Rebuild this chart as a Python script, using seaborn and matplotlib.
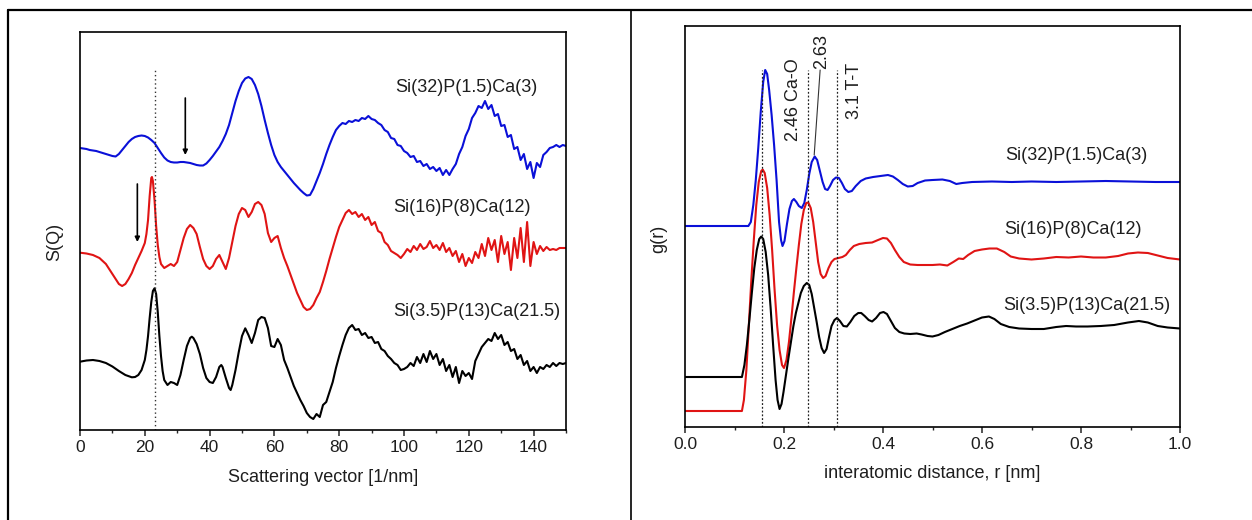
import matplotlib
matplotlib.use("Agg")
import matplotlib.pyplot as plt
from matplotlib.lines import Line2D
from matplotlib.ticker import MultipleLocator, FormatStrFormatter
import numpy as np
import pandas as pd
import seaborn as sns

# ---------------------------------------------------------------- S(Q) data
# scattering vector Q [1/nm] and structure factor S(Q) (arbitrary units)
q_blue = list(range(0, 151))
s_blue = [0.98, 0.975, 0.97, 0.96, 0.955, 0.95, 0.94, 0.93, 0.92, 0.91,
          0.90, 0.895, 0.92, 0.96, 1.00, 1.04, 1.07, 1.09, 1.10, 1.105,
          1.10, 1.085, 1.06, 1.03, 0.98, 0.93, 0.885, 0.855, 0.84, 0.835,
          0.835, 0.84, 0.84, 0.835, 0.83, 0.82, 0.81, 0.805, 0.805, 0.825,
          0.86, 0.90, 0.945, 0.99, 1.05, 1.12, 1.21, 1.33, 1.45, 1.55,
          1.63, 1.675, 1.69, 1.67, 1.61, 1.52, 1.40, 1.26, 1.13, 1.01,
          0.91, 0.84, 0.79, 0.75, 0.71, 0.67, 0.63, 0.595, 0.56, 0.53,
          0.505, 0.51, 0.57, 0.65, 0.73, 0.82, 0.92, 1.01, 1.09, 1.16,
          1.20, 1.23, 1.22, 1.25, 1.24, 1.26, 1.25, 1.28, 1.27, 1.30,
          1.27, 1.26, 1.23, 1.21, 1.16, 1.14, 1.08, 1.07, 1.01, 1.00,
          0.95, 0.93, 0.89, 0.90, 0.84, 0.85, 0.80, 0.82, 0.77, 0.79,
          0.75, 0.78, 0.71, 0.76, 0.71, 0.77, 0.82, 0.92, 0.99, 1.10,
          1.17, 1.28, 1.33, 1.40, 1.38, 1.45, 1.37, 1.41, 1.30, 1.32,
          1.20, 1.21, 1.09, 1.11, 0.97, 0.99, 0.86, 0.92, 0.77, 0.84,
          0.68, 0.83, 0.79, 0.91, 0.94, 0.98, 0.99, 1.01, 0.99, 1.01,
          1.00]

q_red = ([0, 2, 4, 6, 8, 10, 11, 12, 13, 14, 15, 16, 17, 18, 19, 20,
          20.5, 21, 21.5, 22, 22.2, 22.5, 23, 23.5, 24, 24.5]
         + list(range(25, 151)))
s_red = [0.953, 0.945, 0.93, 0.90, 0.84, 0.74, 0.69, 0.64, 0.62, 0.64,
         0.69, 0.75, 0.83, 0.90, 0.97, 1.05, 1.14, 1.28, 1.52, 1.70,
         1.71, 1.67, 1.48, 1.22, 1.03, 0.91,
         0.84, 0.80, 0.82, 0.84, 0.82, 0.86, 0.98, 1.10, 1.19, 1.23,
         1.20, 1.14, 1.01, 0.89, 0.82, 0.79, 0.82, 0.89, 0.93, 0.86,
         0.79, 0.90, 1.06, 1.22, 1.34, 1.40, 1.38, 1.31, 1.36, 1.44,
         1.46, 1.43, 1.34, 1.15, 1.06, 1.10, 1.12, 1.00, 0.90, 0.82,
         0.73, 0.64, 0.55, 0.48, 0.41, 0.38, 0.39, 0.43, 0.50, 0.56,
         0.66, 0.77, 0.89, 1.00, 1.11, 1.21, 1.28, 1.35, 1.38, 1.34,
         1.36, 1.31, 1.34, 1.28, 1.31, 1.23, 1.26, 1.17, 1.15, 1.06,
         1.03, 0.97, 0.95, 0.93, 0.90, 0.94, 0.99, 0.96, 1.02, 0.98,
         1.04, 0.99, 1.01, 1.07, 1.00, 1.03, 0.98, 1.05, 0.96, 1.00,
         0.92, 0.97, 0.86, 0.94, 0.82, 0.90, 0.85, 0.96, 0.90, 1.04,
         0.92, 1.10, 0.98, 1.08, 0.86, 1.12, 0.94, 1.06, 0.78, 1.10,
         0.90, 1.20, 0.86, 1.26, 0.82, 1.06, 0.94, 1.02, 0.97, 1.01,
         0.98, 0.99, 0.98, 1.00, 1.00, 1.00]

q_black = [0, 2, 4, 6, 8, 10, 12, 14, 16, 17, 18, 19, 20, 20.5, 21, 21.5,
           22, 22.5, 23, 23.5, 24, 24.5, 25, 25.5, 26, 27, 28, 29, 30, 31,
           32, 33, 34, 34.5, 35, 36, 37, 38, 39, 40, 41, 42, 43, 43.6, 44,
           45, 46, 46.5, 47] + list(range(48, 151))
s_black = [1.013, 1.025, 1.03, 1.02, 1.00, 0.965, 0.92, 0.88, 0.857, 0.86,
           0.88, 0.93, 1.03, 1.13, 1.27, 1.45, 1.61, 1.72, 1.747, 1.69,
           1.51, 1.27, 1.07, 0.92, 0.83, 0.78, 0.81, 0.80, 0.78, 0.88,
           1.03, 1.17, 1.25, 1.263, 1.25, 1.19, 1.09, 0.95, 0.85, 0.81,
           0.80, 0.86, 0.96, 0.98, 0.96, 0.85, 0.75, 0.73, 0.78,
           0.93, 1.11, 1.27, 1.347, 1.28, 1.20, 1.30, 1.43, 1.46, 1.45,
           1.35, 1.17, 1.16, 1.24, 1.18, 1.03, 0.95, 0.86, 0.77, 0.70,
           0.63, 0.57, 0.50, 0.46, 0.44, 0.49, 0.46, 0.58, 0.61, 0.71,
           0.81, 0.95, 1.07, 1.18, 1.28, 1.35, 1.38, 1.33, 1.34, 1.28,
           1.30, 1.25, 1.26, 1.20, 1.21, 1.14, 1.12, 1.07, 1.04, 1.00,
           0.98, 0.93, 0.94, 0.96, 1.00, 0.97, 1.06, 1.00, 1.09, 1.01,
           1.12, 1.04, 1.09, 0.98, 1.04, 0.92, 0.98, 0.86, 0.96, 0.80,
           0.92, 0.87, 0.90, 0.84, 1.02, 1.09, 1.16, 1.20, 1.24, 1.22,
           1.30, 1.24, 1.28, 1.18, 1.21, 1.12, 1.14, 1.04, 1.08, 0.98,
           1.02, 0.92, 0.96, 0.90, 0.96, 0.94, 0.98, 0.96, 1.00, 0.97,
           1.00, 0.99, 1.00]

# ---------------------------------------------------------------- g(r) data
r_blue = [0.00, 0.12, 0.128, 0.133, 0.138, 0.143, 0.148, 0.153, 0.158, 0.162,
          0.166, 0.170, 0.175, 0.180, 0.185, 0.190, 0.194, 0.197, 0.201, 0.206,
          0.211, 0.216, 0.220, 0.225, 0.230, 0.236, 0.241, 0.246, 0.251, 0.256,
          0.262, 0.267, 0.272, 0.278, 0.283, 0.288, 0.293, 0.299, 0.305, 0.311,
          0.317, 0.323, 0.330, 0.337, 0.345, 0.355, 0.365, 0.380, 0.395, 0.410,
          0.420, 0.430, 0.440, 0.450, 0.460, 0.470, 0.485, 0.50, 0.52, 0.535,
          0.548, 0.56, 0.58, 0.62, 0.66, 0.70, 0.75, 0.80, 0.85, 0.90,
          0.95, 1.00]
g_blue = [0.0, 0.0, 0.0, 0.04, 0.21, 0.46, 0.78, 1.14, 1.44, 1.56,
          1.52, 1.36, 1.11, 0.81, 0.46, 0.04, -0.14, -0.20, -0.15, 0.02,
          0.17, 0.25, 0.27, 0.24, 0.20, 0.18, 0.23, 0.36, 0.52, 0.64,
          0.695, 0.66, 0.56, 0.44, 0.37, 0.36, 0.40, 0.46, 0.485, 0.48,
          0.43, 0.37, 0.34, 0.35, 0.40, 0.45, 0.475, 0.49, 0.50, 0.51,
          0.495, 0.46, 0.42, 0.395, 0.40, 0.43, 0.455, 0.46, 0.465, 0.45,
          0.42, 0.43, 0.44, 0.445, 0.44, 0.445, 0.44, 0.445, 0.45, 0.445,
          0.44, 0.44]

r_red = [0.0, 0.115, 0.119, 0.124, 0.129, 0.134, 0.139, 0.144, 0.149, 0.154,
         0.157, 0.161, 0.166, 0.171, 0.176, 0.181, 0.186, 0.191, 0.196, 0.200,
         0.205, 0.210, 0.215, 0.220, 0.225, 0.230, 0.235, 0.240, 0.245, 0.249,
         0.254, 0.259, 0.264, 0.269, 0.274, 0.279, 0.284, 0.290, 0.296, 0.302,
         0.310, 0.318, 0.325, 0.333, 0.341, 0.352, 0.365, 0.378, 0.390, 0.400,
         0.408, 0.416, 0.424, 0.433, 0.442, 0.455, 0.47, 0.485, 0.50, 0.515,
         0.530, 0.542, 0.553, 0.562, 0.572, 0.585, 0.600, 0.615, 0.630, 0.645,
         0.658, 0.675, 0.700, 0.725, 0.750, 0.775, 0.800, 0.825, 0.850, 0.875,
         0.895, 0.915, 0.935, 0.955, 0.975, 1.000]
g_red = [0.0, 0.0, 0.11, 0.41, 0.86, 1.31, 1.71, 2.06, 2.29, 2.40,
         2.415, 2.38, 2.23, 1.96, 1.61, 1.21, 0.86, 0.61, 0.46, 0.43,
         0.51, 0.69, 0.93, 1.19, 1.43, 1.66, 1.87, 2.01, 2.08, 2.085,
         2.03, 1.89, 1.69, 1.49, 1.37, 1.33, 1.35, 1.43, 1.49, 1.52,
         1.53, 1.54, 1.56, 1.61, 1.65, 1.67, 1.68, 1.685, 1.71, 1.73,
         1.725, 1.68, 1.61, 1.54, 1.49, 1.465, 1.46, 1.46, 1.46, 1.465,
         1.455, 1.49, 1.525, 1.52, 1.56, 1.60, 1.615, 1.625, 1.625, 1.59,
         1.545, 1.525, 1.515, 1.525, 1.54, 1.535, 1.545, 1.535, 1.535, 1.55,
         1.575, 1.585, 1.58, 1.555, 1.53, 1.515]

r_black = [0.0, 0.115, 0.120, 0.125, 0.130, 0.135, 0.140, 0.145, 0.150, 0.154,
           0.158, 0.163, 0.168, 0.173, 0.178, 0.183, 0.187, 0.191, 0.195, 0.199,
           0.204, 0.209, 0.214, 0.219, 0.224, 0.229, 0.234, 0.240, 0.246, 0.251,
           0.256, 0.261, 0.266, 0.271, 0.276, 0.281, 0.286, 0.291, 0.296, 0.302,
           0.307, 0.313, 0.320, 0.327, 0.334, 0.342, 0.350, 0.356, 0.363, 0.371,
           0.378, 0.386, 0.394, 0.401, 0.408, 0.416, 0.424, 0.433, 0.443, 0.455,
           0.468, 0.478, 0.490, 0.500, 0.512, 0.525, 0.540, 0.555, 0.570, 0.585,
           0.600, 0.614, 0.625, 0.638, 0.655, 0.675, 0.700, 0.725, 0.750, 0.770,
           0.790, 0.813, 0.840, 0.867, 0.895, 0.917, 0.935, 0.955, 0.975, 1.000]
g_black = [0.0, 0.0, 0.12, 0.32, 0.57, 0.84, 1.09, 1.27, 1.38, 1.405,
           1.38, 1.25, 1.02, 0.69, 0.32, -0.03, -0.23, -0.32, -0.27, -0.15,
           0.02, 0.19, 0.35, 0.51, 0.64, 0.74, 0.84, 0.91, 0.94, 0.92,
           0.83, 0.69, 0.55, 0.40, 0.29, 0.24, 0.28, 0.40, 0.51, 0.57,
           0.59, 0.56, 0.51, 0.505, 0.55, 0.61, 0.64, 0.64, 0.61, 0.57,
           0.555, 0.59, 0.64, 0.65, 0.63, 0.56, 0.49, 0.45, 0.435, 0.43,
           0.435, 0.425, 0.41, 0.405, 0.42, 0.45, 0.48, 0.51, 0.535, 0.565,
           0.595, 0.605, 0.58, 0.53, 0.50, 0.485, 0.48, 0.48, 0.50, 0.51,
           0.505, 0.505, 0.51, 0.52, 0.545, 0.56, 0.545, 0.51, 0.495, 0.485]

sample_names = ["Si(32)P(1.5)Ca(3)", "Si(16)P(8)Ca(12)", "Si(3.5)P(13)Ca(21.5)"]
sample_colors = ["#0a10d8", "#e01414", "#000000"]

# vertical stacking of the curves (arbitrary units)
sq_offsets = [2.17, 1.15, 0.0]
gr_offsets = [2.01, 0.16, 0.50]

# reference positions
sq_marker_q = [23.0]
sq_arrow_q = [32.5, 17.7]
gr_marker_r = [0.155, 0.248, 0.307]
gr_marker_text = ["2.46 Ca-O", "2.63", "3.1 T-T"]

# ---------------------------------------------------------------- figure
sns.set_style("white")
plt.rcParams["font.family"] = ["Liberation Sans", "DejaVu Sans"]
plt.rcParams["axes.linewidth"] = 1.2
TXT = "#1e1e1e"
FS = 13

fig = plt.figure(figsize=(12.52, 5.2), dpi=100)
W, H = 1252.0, 520.0

# cell frame around the two panels
frame_kw = dict(color="black", lw=1.6, transform=fig.transFigure)
fig.add_artist(Line2D([8 / W, 1.0], [1 - 9.5 / H, 1 - 9.5 / H], **frame_kw))
fig.add_artist(Line2D([8 / W, 8 / W], [0, 1 - 9.5 / H], **frame_kw))
fig.add_artist(Line2D([631 / W, 631 / W], [0, 1 - 9.5 / H], lw=1.2,
                      color="black", transform=fig.transFigure))

ax1 = fig.add_axes([80 / W, 1 - 430 / H, 486 / W, 398 / H])
ax2 = fig.add_axes([685 / W, 1 - 427 / H, 495 / W, 401 / H])

# ---- left panel: S(Q)
sq_sets = [(q_blue, s_blue), (q_red, s_red), (q_black, s_black)]
for (q, s), off, col in zip(sq_sets, sq_offsets, sample_colors):
    df = pd.DataFrame({"Q": q, "S": np.array(s) + off})
    sns.lineplot(data=df, x="Q", y="S", ax=ax1, color=col, lw=1.5,
                 estimator=None, sort=False)

ax1.set_xlim(0, 150)
ax1.set_ylim(0.33, 4.31)
ax1.vlines(sq_marker_q, 0.33, 3.95, colors="#333333", linestyles=(0, (1, 2)),
           lw=1.0)
for qa, (y0, y1) in zip(sq_arrow_q, [(3.65, 3.08), (2.79, 2.21)]):
    ax1.annotate("", xy=(qa, y1), xytext=(qa, y0),
                 arrowprops=dict(arrowstyle="-|>", color="black", lw=1.2,
                                 mutation_scale=7, shrinkA=0, shrinkB=0))
for name, (xt, yt) in zip(sample_names, [(97.2, 3.75), (96.6, 2.55), (96.6, 1.51)]):
    ax1.text(xt, yt, name, fontsize=FS, color=TXT, ha="left", va="center")

# ---- right panel: g(r)
gr_sets = [(r_blue, g_blue), (r_red, g_red), (r_black, g_black)]
for (r, g), off, col in zip(gr_sets, gr_offsets, sample_colors):
    df = pd.DataFrame({"r": r, "g": np.array(g) + off})
    sns.lineplot(data=df, x="r", y="g", ax=ax2, color=col, lw=1.5,
                 estimator=None, sort=False)

ax2.set_xlim(0, 1.0)
ax2.set_ylim(0, 4.01)
ax2.vlines(gr_marker_r, 0, 3.57, colors="#222222", linestyles=(0, (1.5, 1.5)),
           lw=0.9)
ax2.text(0.220, 3.27, gr_marker_text[0], rotation=90, fontsize=FS, color=TXT,
         ha="center", va="center")
ax2.text(0.277, 3.75, gr_marker_text[1], rotation=90, fontsize=FS, color=TXT,
         ha="center", va="center")
ax2.text(0.342, 3.36, gr_marker_text[2], rotation=90, fontsize=FS, color=TXT,
         ha="center", va="center")
ax2.plot([0.273, 0.261], [3.57, 2.72], color="#333333", lw=0.8)
for name, (xt, yt) in zip(sample_names, [(0.646, 2.71), (0.644, 1.97), (0.642, 1.22)]):
    ax2.text(xt, yt, name, fontsize=FS, color=TXT, ha="left", va="center")

# ---- axes styling
for ax, major, minor in [(ax1, 20, 10), (ax2, 0.2, 0.1)]:
    ax.xaxis.set_major_locator(MultipleLocator(major))
    ax.xaxis.set_minor_locator(MultipleLocator(minor))
    ax.tick_params(axis="x", which="major", direction="out", length=4,
                   width=1.1, labelsize=12.5, labelcolor=TXT, pad=3,
                   bottom=True)
    ax.tick_params(axis="x", which="minor", direction="out", length=2.5,
                   width=1.0, bottom=True)
    ax.tick_params(axis="y", left=False, labelleft=False)
    ax.set_yticks([])
    for sp in ax.spines.values():
        sp.set_visible(True)
        sp.set_color("black")
        sp.set_linewidth(1.2)

ax1.set_xticks(list(range(0, 141, 20)))
ax2.xaxis.set_major_formatter(FormatStrFormatter("%.1f"))

ax1.set_xlabel("Scattering vector [1/nm]", fontsize=FS, color=TXT, va="center")
ax1.xaxis.set_label_coords(0.5, (430 - 478) / 398)
ax1.set_ylabel("S(Q)", fontsize=FS, color=TXT, va="center")
ax1.yaxis.set_label_coords((55 - 80) / 486, (430 - 242) / 398)

ax2.set_xlabel("interatomic distance, r [nm]", fontsize=FS, color=TXT, va="center")
ax2.xaxis.set_label_coords(0.5, (427 - 473) / 401)
ax2.set_ylabel("g(r)", fontsize=FS, color=TXT, va="center")
ax2.yaxis.set_label_coords((659 - 685) / 495, (427 - 239) / 401)

fig.savefig("out.png", dpi=100)
